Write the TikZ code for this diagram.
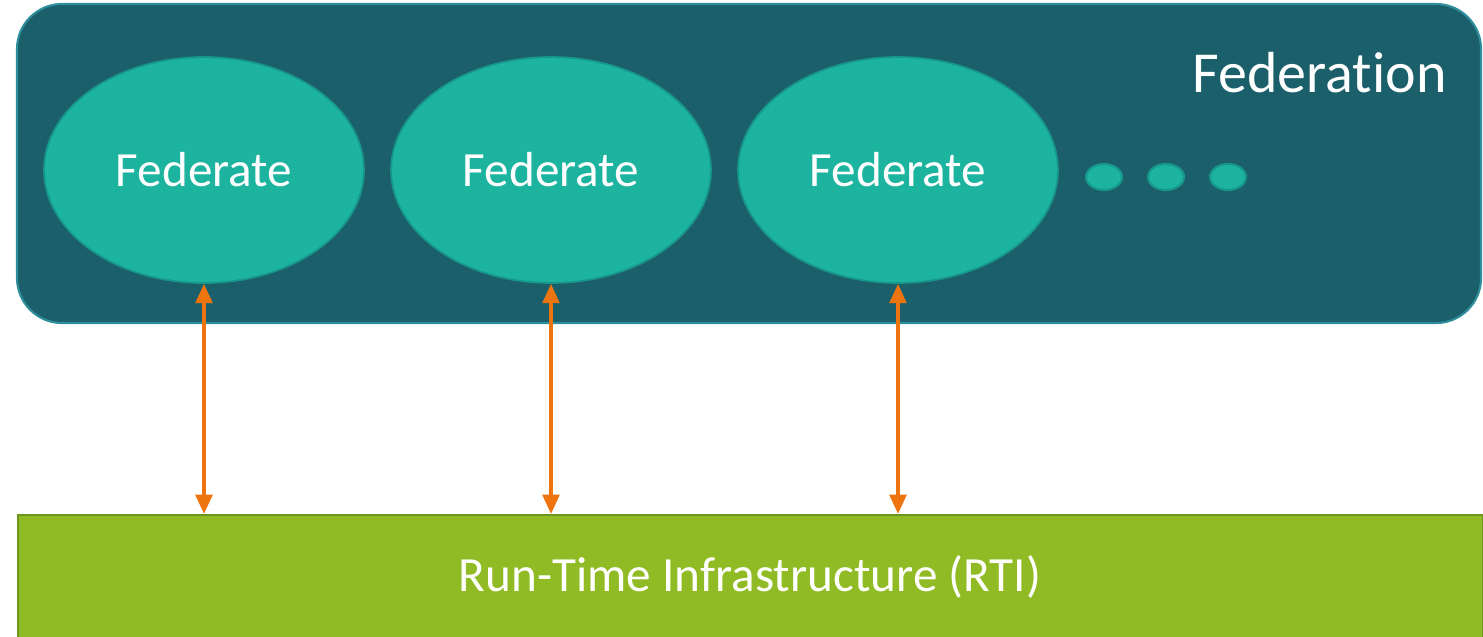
\documentclass[tikz,border=0pt]{standalone}
\usepackage{fontspec}
\setmainfont[Ligatures=NoCommon]{Carlito}
\usetikzlibrary{arrows.meta,shapes.geometric}
\definecolor{fedfill}{HTML}{1B5F6B}
\definecolor{fedline}{HTML}{2E8E9C}
\definecolor{elfill}{HTML}{1CB39F}
\definecolor{elline}{HTML}{17978A}
\definecolor{rtifill}{HTML}{90BB24}
\definecolor{rtiline}{HTML}{6E961C}
\definecolor{arrowc}{HTML}{EE7410}
\begin{document}
\begin{tikzpicture}[x=0.02cm,y=-0.02cm,
  fedbox/.style={fill=fedfill,draw=fedline,line width=1.2pt,rounded corners=0.9cm},
  fedel/.style={ellipse,fill=elfill,draw=elline,line width=1pt,minimum width=6.4cm,minimum height=4.52cm,
    text=white,font=\fontsize{28}{34}\selectfont,inner sep=0pt},
  dotel/.style={ellipse,fill=elfill,draw=elline,line width=1.2pt,minimum width=0.72cm,minimum height=0.52cm,inner sep=0pt},
  link/.style={draw=arrowc,line width=2pt,{Triangle[length=11pt,width=9.5pt]}-{Triangle[length=11pt,width=9.5pt]}}]
\useasboundingbox (0,0) rectangle (1483,636);
% federation container
\path[fedbox] (17,4) rectangle (1481,323);
\node[text=white,font=\fontsize{33}{40}\selectfont,anchor=base east,inner sep=0pt] (fedlabel) at (1447,92) {Federation};
% federates
\node[fedel] (f1) at (204,170) {Federate};
\node[fedel] (f2) at (551,170) {Federate};
\node[fedel] (f3) at (898,170) {Federate};
\node[dotel] (d1) at (1104,177) {};
\node[dotel] (d2) at (1166,177) {};
\node[dotel] (d3) at (1228,177) {};
% run-time infrastructure
\node[draw=rtiline,fill=rtifill,line width=1.4pt,minimum width=29.3cm,minimum height=2.6cm,anchor=north west,inner sep=0pt] (rti) at (17,514) {};
\node[text=white,font=\fontsize{28}{34}\selectfont] (rtilabel) at (750,577) {Run-Time Infrastructure (RTI)};
% connectors
\draw[link] (f1.south) -- (f1.south |- rti.north);
\draw[link] (f2.south) -- (f2.south |- rti.north);
\draw[link] (f3.south) -- (f3.south |- rti.north);
\end{tikzpicture}
\end{document}
